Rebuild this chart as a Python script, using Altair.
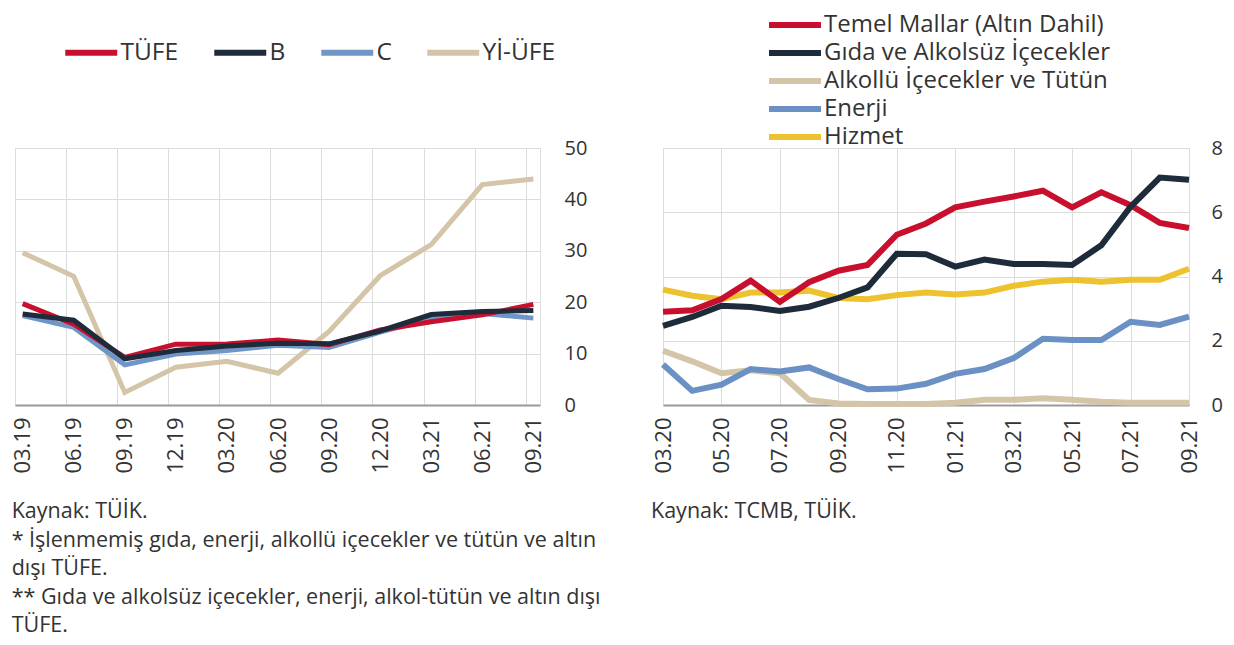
import altair as alt
import pandas as pd

FONT = "Open Sans"
TXT = "#333333"

# ---------------- Left chart data (quarterly, annual % change) ----------------
q_labels = ["03.19", "06.19", "09.19", "12.19", "03.20", "06.20",
            "09.20", "12.20", "03.21", "06.21", "09.21"]
left_series = ["TÜFE", "B", "C", "Yİ-ÜFE"]
left_colors = ["#C8102E", "#1E2B3A", "#7096C8", "#D4C5A9"]
tufe = [19.71, 15.72, 9.26, 11.84, 11.86, 12.62, 11.75, 14.60, 16.19, 17.53, 19.58]
b_core = [17.7, 16.5, 9.0, 10.6, 11.5, 12.0, 11.9, 14.4, 17.6, 18.2, 18.4]
c_core = [17.4, 15.1, 7.8, 9.9, 10.6, 11.6, 11.2, 14.2, 16.8, 17.8, 16.9]
yiufe = [29.64, 25.04, 2.45, 7.36, 8.50, 6.17, 14.33, 25.15, 31.20, 42.89, 43.96]
left_notes = ["Kaynak: TÜİK.",
              "* İşlenmemiş gıda, enerji, alkollü içecekler ve tütün ve altın",
              "dışı TÜFE.",
              "** Gıda ve alkolsüz içecekler, enerji, alkol-tütün ve altın dışı",
              "TÜFE."]

# ---------------- Right chart data (monthly) ----------------
m_labels = ["03.20", "04.20", "05.20", "06.20", "07.20", "08.20", "09.20", "10.20",
            "11.20", "12.20", "01.21", "02.21", "03.21", "04.21", "05.21", "06.21",
            "07.21", "08.21", "09.21"]
right_series = ["Temel Mallar (Altın Dahil)", "Gıda ve Alkolsüz İçecekler",
                "Alkollü İçecekler ve Tütün", "Enerji", "Hizmet"]
right_colors = ["#C8102E", "#1E2B3A", "#D4C5A9", "#6A90C4", "#EEC12E"]
temel = [2.90, 2.95, 3.30, 3.87, 3.21, 3.82, 4.18, 4.36, 5.30, 5.65, 6.15, 6.33,
         6.49, 6.67, 6.15, 6.62, 6.22, 5.67, 5.51]
gida = [2.46, 2.74, 3.09, 3.05, 2.93, 3.06, 3.33, 3.66, 4.71, 4.69, 4.31, 4.53,
        4.39, 4.39, 4.36, 4.97, 6.17, 7.08, 7.01]
alkol = [1.69, 1.36, 0.99, 1.08, 0.99, 0.16, 0.05, 0.03, 0.03, 0.03, 0.07, 0.16,
         0.16, 0.21, 0.16, 0.10, 0.07, 0.07, 0.07]
enerji = [1.26, 0.44, 0.63, 1.12, 1.04, 1.17, 0.81, 0.49, 0.51, 0.66, 0.97, 1.12,
          1.46, 2.06, 2.02, 2.02, 2.59, 2.49, 2.75]
hizmet = [3.59, 3.40, 3.29, 3.50, 3.50, 3.56, 3.33, 3.29, 3.42, 3.50, 3.44, 3.50,
          3.71, 3.84, 3.90, 3.84, 3.90, 3.90, 4.24]
right_notes = ["Kaynak: TCMB, TÜİK."]

# ---------------- tables ----------------
def long_table(series_values, names):
    rows = []
    for name, vals in zip(names, series_values):
        for i, v in enumerate(vals):
            rows.append({"i": i, "v": v, "s": name})
    return pd.DataFrame(rows)

# draw order (bottom -> top)
left_df = long_table([yiufe, c_core, tufe, b_core], ["Yİ-ÜFE", "C", "TÜFE", "B"])
right_df = long_table([alkol, enerji, hizmet, temel, gida],
                      [right_series[2], right_series[3], right_series[4],
                       right_series[0], right_series[1]])

def expr_list(labels):
    return "[" + ",".join("'" + s + "'" for s in labels) + "][datum.value]"

GRID = "#DCDCDC"
SYMBOL = "M-3,0H3"   # wide horizontal stroke for legend swatches

# ---------------- Left chart ----------------
n_q = len(q_labels)
grid_shift = 0.15
xl_scale = alt.Scale(domain=[-grid_shift, n_q - 1 + 0.13], nice=False, zero=False)
yl_scale = alt.Scale(domain=[0, 50], nice=False)
yl_axis = alt.Axis(orient="right", values=[0, 10, 20, 30, 40, 50], grid=True,
                   gridColor=GRID, ticks=False, domain=False, title=None,
                   labelFontSize=20, labelPadding=24, labelColor=TXT, labelFont=FONT)

left_grid = alt.Chart(left_df).mark_line(opacity=0).encode(
    x=alt.X("i:Q", scale=xl_scale,
            axis=alt.Axis(values=[k - grid_shift for k in range(n_q)], grid=True,
                          gridColor=GRID, labels=False, ticks=False, domain=False,
                          title=None, orient="bottom")),
    y=alt.Y("v:Q", scale=yl_scale, axis=yl_axis),
)

left_lines = alt.Chart(left_df).mark_line(strokeWidth=5, strokeJoin="miter").encode(
    x=alt.X("i:Q", scale=xl_scale,
            axis=alt.Axis(values=list(range(n_q)), labelExpr=expr_list(q_labels),
                          grid=False, ticks=False, domain=True, domainColor="#9A9A9A",
                          domainWidth=2, labelAngle=270, labelPadding=12,
                          labelFontSize=22, labelColor=TXT, labelFont=FONT,
                          title=None, orient="bottom")),
    y=alt.Y("v:Q", scale=yl_scale, axis=yl_axis),
    color=alt.Color("s:N", scale=alt.Scale(domain=left_series, range=left_colors),
                    legend=alt.Legend(orient="none", legendX=64, legendY=-108,
                                      direction="horizontal", title=None,
                                      symbolType=SYMBOL, symbolSize=300,
                                      symbolStrokeWidth=6, labelFontSize=24.5,
                                      labelFont=FONT, labelColor=TXT, labelLimit=0,
                                      columnPadding=23, labelOffset=17, padding=0)),
)

left = alt.layer(left_grid, left_lines).resolve_axis(x="independent").properties(
    width=525, height=257,
    title=alt.TitleParams(text=left_notes, orient="bottom", anchor="start",
                          fontSize=21.5, font=FONT, fontWeight="normal", color=TXT,
                          lineHeight=28.5, offset=28),
)

# ---------------- Right chart ----------------
n_m = len(m_labels)
xr_scale = alt.Scale(domain=[0, n_m - 1], nice=False, zero=False)
yr_scale = alt.Scale(domain=[0, 8], nice=False)

right = alt.Chart(right_df).mark_line(strokeWidth=6, strokeJoin="miter").encode(
    x=alt.X("i:Q", scale=xr_scale,
            axis=alt.Axis(values=list(range(0, n_m, 2)), labelExpr=expr_list(m_labels),
                          grid=True, gridColor=GRID, ticks=False, domain=True,
                          domainColor="#9A9A9A", domainWidth=2, labelAngle=270,
                          labelPadding=12, labelFontSize=22, labelColor=TXT,
                          labelFont=FONT, title=None, orient="bottom")),
    y=alt.Y("v:Q", scale=yr_scale,
            axis=alt.Axis(orient="right", values=[0, 2, 4, 6, 8], grid=True,
                          gridColor=GRID, ticks=False, domain=False, title=None,
                          labelFontSize=20, labelPadding=22, labelColor=TXT,
                          labelFont=FONT)),
    color=alt.Color("s:N", scale=alt.Scale(domain=right_series, range=right_colors),
                    legend=alt.Legend(orient="none", legendX=120, legendY=-135,
                                      direction="vertical", title=None,
                                      symbolType=SYMBOL, symbolSize=300,
                                      symbolStrokeWidth=6, labelFontSize=24,
                                      labelFont=FONT, labelColor=TXT, labelLimit=0,
                                      rowPadding=4, labelOffset=17, padding=0)),
).properties(
    width=526, height=257,
    title=alt.TitleParams(text=right_notes, orient="bottom", anchor="start",
                          fontSize=21.5, font=FONT, fontWeight="normal", color=TXT,
                          lineHeight=28.5, offset=28),
)

chart = alt.hconcat(left, right, spacing=48).resolve_scale(
    color="independent"
).properties(
    padding={"left": 3, "top": 4, "right": 0, "bottom": 0}
).configure_view(stroke=None).configure(font=FONT)

chart.save("out.html", embed_options={"renderer": "svg", "actions": False})
